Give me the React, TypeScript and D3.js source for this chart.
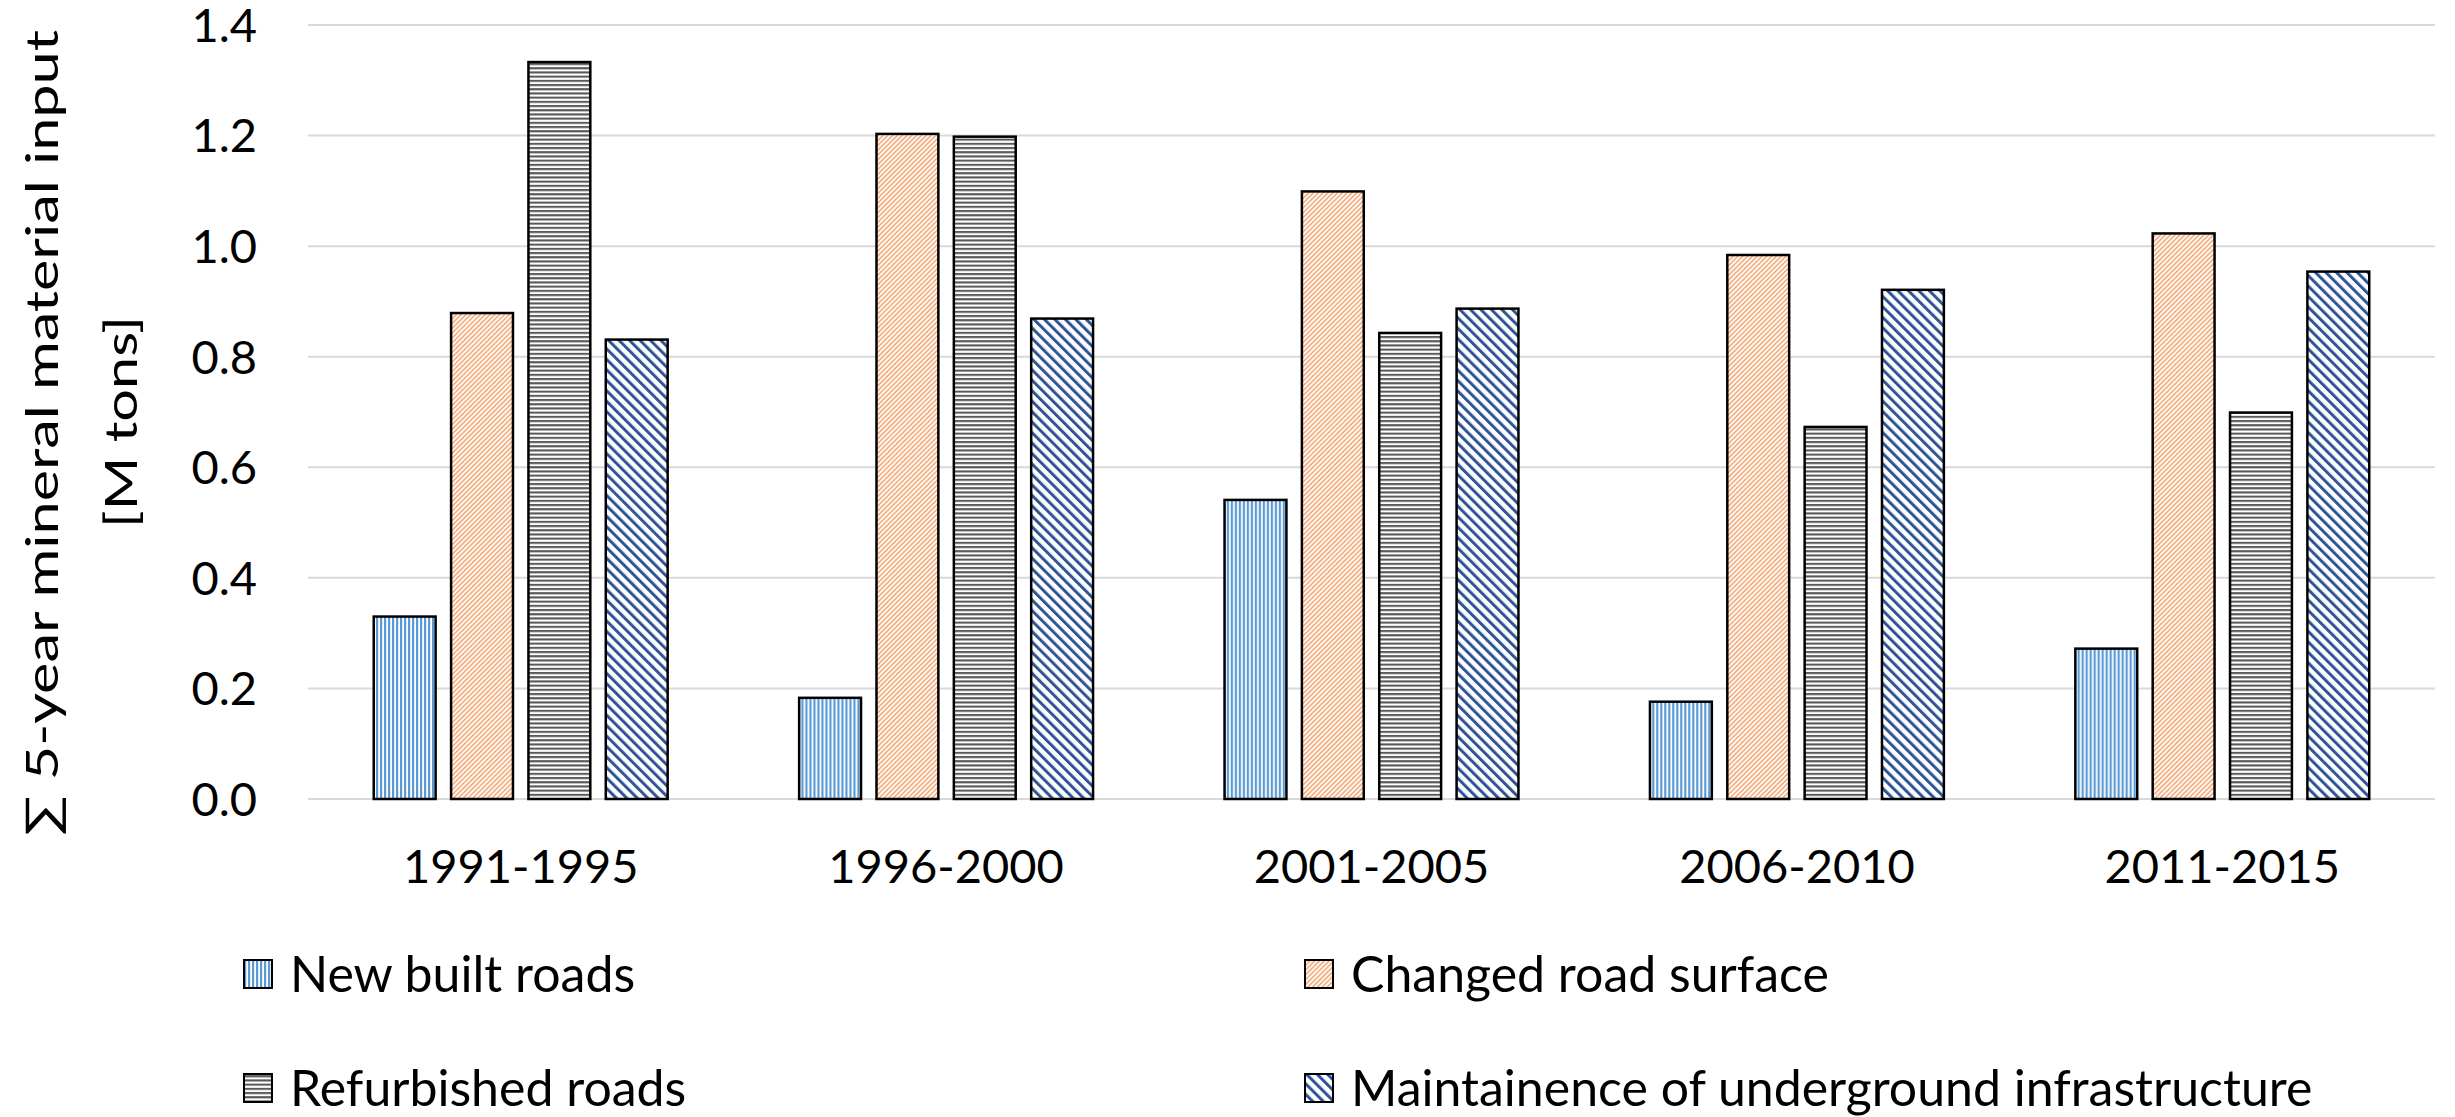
import React from "react";
import * as d3 from "d3";

// Five-year periods on the category axis
const periods = ["1991-1995", "1996-2000", "2001-2005", "2006-2010", "2011-2015"];

// Mineral material input per period [M tons]
const newBuiltRoads = [0.33, 0.183, 0.541, 0.176, 0.272];
const changedRoadSurface = [0.879, 1.203, 1.099, 0.984, 1.023];
const refurbishedRoads = [1.333, 1.198, 0.843, 0.673, 0.699];
const maintenanceUnderground = [0.831, 0.869, 0.887, 0.921, 0.954];

const seriesNames = [
  "New built roads",
  "Changed road surface",
  "Refurbished roads",
  "Maintainence of underground infrastructure",
];
const seriesValues = [newBuiltRoads, changedRoadSurface, refurbishedRoads, maintenanceUnderground];
const seriesPatterns = ["pat-vert", "pat-updiag", "pat-horiz", "pat-downdiag"];

const yTicks = [0, 0.2, 0.4, 0.6, 0.8, 1.0, 1.2, 1.4];

const W = 2455;
const H = 1117;
const FONT = "Lato, 'Open Sans', sans-serif";

const plot = { left: 308, right: 2435, top: 25, bottom: 799 };

export default function App() {
  const x0 = d3.scaleBand<string>().domain(periods).range([plot.left, plot.right]).padding(0);
  const x1 = d3
    .scaleBand<string>()
    .domain(seriesNames)
    .range([0, x0.bandwidth()])
    .paddingInner(0.2)
    .paddingOuter(0.85);
  const y = d3.scaleLinear().domain([0, 1.4]).range([plot.bottom, plot.top]);
  const fmt = d3.format(".1f");

  // legend grid: two columns, two rows
  const legendCols = [244, 1305];
  const legendRows = [974, 1088];
  const swatch = 28;

  return (
    <svg
      width={W}
      height={H}
      style={{ position: "absolute", left: 0, top: 0, background: "#fff" }}
      fontFamily={FONT}
    >
      <defs>
        <pattern id="pat-vert" patternUnits="userSpaceOnUse" width={4} height={4}>
          <rect width={4} height={4} fill="#fff" />
          <rect width={2.2} height={4} fill="#5B9BD5" />
        </pattern>
        <pattern
          id="pat-updiag"
          patternUnits="userSpaceOnUse"
          width={3.4}
          height={3.4}
          patternTransform="rotate(45)"
        >
          <rect width={3.4} height={3.4} fill="#fff" />
          <rect width={1.8} height={3.4} fill="#F4B183" />
        </pattern>
        <pattern id="pat-horiz" patternUnits="userSpaceOnUse" width={4} height={4.2}>
          <rect width={4} height={4.2} fill="#fff" />
          <rect width={4} height={2.1} fill="#595959" />
        </pattern>
        <pattern
          id="pat-downdiag"
          patternUnits="userSpaceOnUse"
          width={7.4}
          height={7.4}
          patternTransform="rotate(-45)"
        >
          <rect width={7.4} height={7.4} fill="#fff" />
          <rect width={3} height={7.4} fill="#2F5597" />
        </pattern>
      </defs>

      <rect width={W} height={H} fill="#fff" />

      {/* gridlines */}
      {yTicks.map((t) => (
        <line
          key={"g" + t}
          x1={plot.left}
          x2={plot.right}
          y1={y(t)}
          y2={y(t)}
          stroke="#D9D9D9"
          strokeWidth={2}
        />
      ))}

      {/* y tick labels */}
      {yTicks.map((t) => (
        <text
          key={"t" + t}
          x={257}
          y={y(t)}
          dy="0.36em"
          textAnchor="end"
          fontSize={47}
          fill="#000"
        >
          {fmt(t)}
        </text>
      ))}

      {/* bars */}
      {periods.map((p, i) => (
        <g key={p} transform={`translate(${x0(p)},0)`}>
          {seriesNames.map((s, k) => {
            const v = seriesValues[k][i];
            return (
              <rect
                key={s}
                x={x1(s)}
                y={y(v)}
                width={x1.bandwidth()}
                height={y(0) - y(v)}
                fill={`url(#${seriesPatterns[k]})`}
                stroke="#000"
                strokeWidth={2.5}
              />
            );
          })}
        </g>
      ))}

      {/* category labels */}
      {periods.map((p) => (
        <text
          key={"c" + p}
          x={(x0(p) as number) + x0.bandwidth() / 2}
          y={883}
          textAnchor="middle"
          fontSize={47}
          fill="#000"
        >
          {p}
        </text>
      ))}

      {/* y axis title */}
      <text
        transform="translate(58,433) rotate(-90)"
        textAnchor="middle"
        fontSize={45}
        fill="#000"
        textLength={806}
        lengthAdjust="spacingAndGlyphs"
      >
        ∑ 5-year mineral material input
      </text>
      <text
        transform="translate(137,422) rotate(-90)"
        textAnchor="middle"
        fontSize={45}
        fill="#000"
        textLength={212}
        lengthAdjust="spacingAndGlyphs"
      >
        [M tons]
      </text>

      {/* legend */}
      {seriesNames.map((s, k) => {
        const cx = legendCols[k % 2];
        const cy = legendRows[Math.floor(k / 2)];
        return (
          <g key={"l" + s}>
            <rect
              x={cx}
              y={cy - swatch / 2}
              width={swatch}
              height={swatch}
              fill={`url(#${seriesPatterns[k]})`}
              stroke="#000"
              strokeWidth={2}
            />
            <text x={cx + swatch + 18} y={cy} dy="0.36em" fontSize={50} fill="#000">
              {s}
            </text>
          </g>
        );
      })}
    </svg>
  );
}
